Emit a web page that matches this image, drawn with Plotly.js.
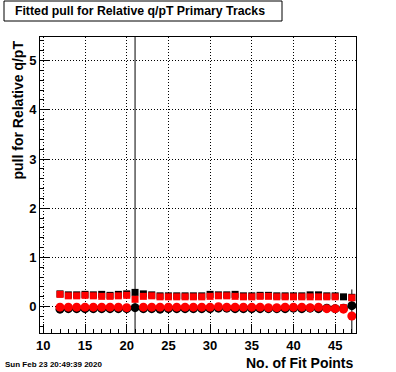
<!DOCTYPE html>
<html>
<head>
<meta charset="utf-8">
<script src="https://cdn.plot.ly/plotly-3.0.1.min.js"></script>
<style>html,body{margin:0;padding:0;background:#fff;}#chart{width:396px;height:372px;}</style>
</head>
<body>
<div id="chart"></div>
<script>
var fitPoints = [12,13,14,15,16,17,18,19,20,21,22,23,24,25,26,27,28,29,30,31,32,33,34,35,36,37,38,39,40,41,42,43,44,45,46,47];
var blackSquares = [0.26,0.24,0.24,0.25,0.24,0.25,0.23,0.25,0.26,0.29,0.26,0.24,0.22,0.22,0.22,0.22,0.22,0.22,0.25,0.24,0.24,0.25,0.22,0.22,0.23,0.23,0.22,0.22,0.22,0.22,0.24,0.24,0.22,0.22,0.20,0.19];
var redSquares = [0.25,0.22,0.22,0.23,0.22,0.21,0.21,0.22,0.23,0.15,0.21,0.22,0.20,0.20,0.20,0.20,0.20,0.20,0.21,0.22,0.22,0.21,0.20,0.20,0.21,0.21,0.20,0.20,0.20,0.20,0.20,0.20,0.20,0.20,-0.02,0.18];
var blackCircles = [-0.05,-0.04,-0.04,-0.04,-0.04,-0.04,-0.04,-0.04,-0.04,-0.02,-0.04,-0.04,-0.05,-0.04,-0.04,-0.04,-0.04,-0.04,-0.04,-0.03,-0.03,-0.04,-0.04,-0.04,-0.04,-0.04,-0.04,-0.04,-0.03,-0.04,-0.03,-0.04,-0.03,-0.04,-0.03,0.02];
var redCircles = [-0.01,-0.01,-0.01,-0.01,-0.01,-0.01,-0.01,-0.01,-0.02,null,-0.01,-0.01,-0.01,-0.01,-0.01,-0.01,-0.01,-0.01,-0.01,0.0,-0.01,-0.01,-0.01,-0.01,-0.01,-0.02,-0.02,-0.01,-0.01,-0.01,-0.02,-0.01,-0.04,-0.04,-0.05,-0.19];
var blackCircleErrUp = [0.01,0.01,0.01,0.01,0.01,0.01,0.01,0.01,0.01,10,0.01,0.01,0.01,0.01,0.01,0.01,0.01,0.01,0.01,0.01,0.01,0.01,0.01,0.01,0.01,0.01,0.01,0.01,0.01,0.01,0.01,0.01,0.01,0.01,0.02,0.33];
var blackCircleErrDown = [0.01,0.01,0.01,0.01,0.01,0.01,0.01,0.01,0.01,10,0.01,0.01,0.01,0.01,0.01,0.01,0.01,0.01,0.01,0.01,0.01,0.01,0.01,0.01,0.01,0.01,0.01,0.01,0.01,0.01,0.01,0.01,0.01,0.01,0.02,0.8];

var titleText = 'Fitted pull for Relative q/pT Primary Tracks';
var xTitle = 'No. of Fit Points';
var yTitle = 'pull for Relative q/pT';
var dateText = 'Sun Feb 23 20:49:39 2020';

var FONT = 'Liberation Sans, Arial, Helvetica, sans-serif';

function errs(a, b){ return {type:'data', symmetric:false, array:a, arrayminus:b||a, color:'#000', thickness:1, width:0}; }

var traces = [
  {x:fitPoints, y:blackSquares, mode:'markers', type:'scatter', name:'black squares',
   marker:{symbol:'square', size:7, color:'#000'}},
  {x:fitPoints, y:blackCircles, mode:'markers', type:'scatter', name:'black circles',
   marker:{symbol:'circle', size:9, color:'#000'}, error_y:errs(blackCircleErrUp, blackCircleErrDown)},
  {x:fitPoints, y:redSquares, mode:'markers', type:'scatter', name:'red squares',
   marker:{symbol:'square', size:7, color:'#ff0000'}},
  {x:fitPoints, y:redCircles, mode:'markers', type:'scatter', name:'red circles',
   marker:{symbol:'circle', size:9, color:'#ff0000'}}
];

function px(x){ return (x-40)/316; }
function py(y){ return (333-y)/296; }

var layout = {
  width:396, height:372,
  margin:{l:40, r:40, t:37, b:39, pad:0},
  paper_bgcolor:'#fff', plot_bgcolor:'#fff',
  showlegend:false,
  font:{family:FONT, color:'#000'},
  title:{text:'<b>'+titleText+'</b>', font:{family:FONT, size:12.3, color:'#000'},
         x:140/396, xanchor:'center', xref:'container', y:1-11/372, yanchor:'middle', yref:'container'},
  xaxis:{range:[9.6,47.5], tickmode:'linear', tick0:10, dtick:5,
    ticks:'inside', ticklen:9, tickcolor:'#000', tickwidth:1,
    minor:{dtick:1, ticks:'inside', ticklen:4, tickcolor:'#000', showgrid:false},
    showgrid:true, gridcolor:'#000', griddash:'1px,2px', gridwidth:1,
    showline:true, linecolor:'#000', linewidth:1, mirror:true, zeroline:false,
    tickfont:{family:FONT, size:13, color:'#000', weight:'bold'}},
  yaxis:{range:[-0.535,5.48], tickmode:'linear', tick0:0, dtick:1,
    ticks:'inside', ticklen:9, tickcolor:'#000', tickwidth:1,
    minor:{dtick:0.2, ticks:'inside', ticklen:4, tickcolor:'#000', showgrid:false},
    showgrid:true, gridcolor:'#000', griddash:'1px,2px', gridwidth:1,
    showline:true, linecolor:'#000', linewidth:1, mirror:true, zeroline:false,
    tickfont:{family:FONT, size:13, color:'#000', weight:'bold'}},
  shapes:[
    {type:'rect', xref:'paper', yref:'paper', x0:px(4), x1:px(282), y0:py(21), y1:py(1),
     line:{color:'#000', width:1}, fillcolor:'rgba(0,0,0,0)'}
  ],
  annotations:[
    {text:'<b>'+xTitle+'</b>', xref:'paper', yref:'paper', x:px(356), y:py(363), xanchor:'right', yanchor:'middle',
     showarrow:false, font:{family:FONT, size:14, color:'#000'}},
    {text:'<b>'+yTitle+'</b>', xref:'paper', yref:'paper', x:px(17), y:py(39), xanchor:'center', yanchor:'top',
     textangle:-90, showarrow:false, font:{family:FONT, size:14, color:'#000'}},
    {text:'<b>'+dateText+'</b>', xref:'paper', yref:'paper', x:px(3), y:py(364), xanchor:'left', yanchor:'middle',
     showarrow:false, font:{family:FONT, size:8, color:'#000'}}
  ]
};

Plotly.newPlot('chart', traces, layout, {staticPlot:true, displayModeBar:false});
</script>
</body>
</html>
